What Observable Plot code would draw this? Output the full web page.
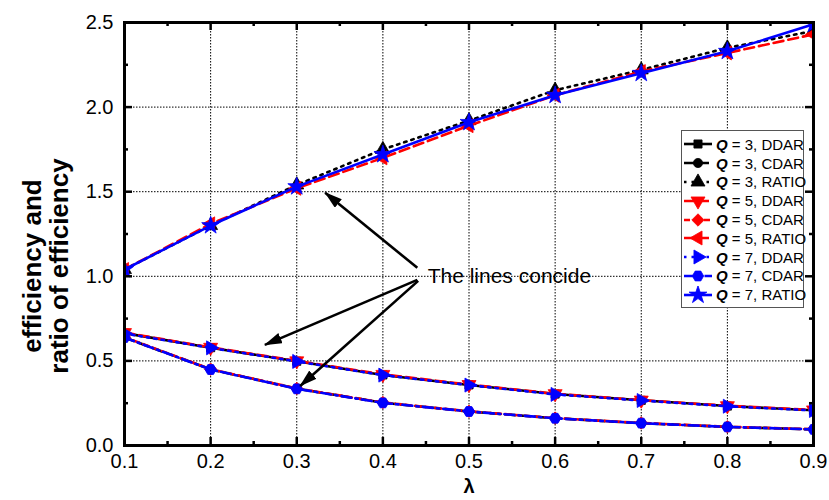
<!DOCTYPE html>
<html><head><meta charset="utf-8">
<script src="https://cdn.jsdelivr.net/npm/d3@7"></script>
<script src="https://cdn.jsdelivr.net/npm/@observablehq/plot@0.6"></script>
<style>
body{margin:0;background:#fff;font-family:"Liberation Sans",Arial,sans-serif;}
#wrap{position:relative;width:829px;height:500px;}
#legend{position:absolute;left:681px;top:130px;width:123px;height:178px;border:1px solid #555;background:#fff;padding-top:4px;box-sizing:border-box;}
.row{height:18.8px;display:flex;align-items:center;font-size:15px;white-space:nowrap;color:#000;}
.row svg{flex:none;margin-left:1px;margin-right:3px;}
</style></head><body><div id="wrap"></div>
<script>
// ---- data ----
const lambda = [0.1, 0.2, 0.3, 0.4, 0.5, 0.6, 0.7, 0.8, 0.9];
const q3DDAR  = [0.664, 0.578, 0.498, 0.417, 0.358, 0.304, 0.267, 0.233, 0.208];
const q3CDAR  = [0.638, 0.450, 0.336, 0.253, 0.201, 0.161, 0.132, 0.110, 0.095];
const q3RATIO = [1.04, 1.30, 1.54, 1.75, 1.92, 2.10, 2.22, 2.35, 2.45];
const q5DDAR  = [0.667, 0.580, 0.500, 0.420, 0.360, 0.306, 0.268, 0.235, 0.210];
const q5CDAR  = [0.640, 0.451, 0.337, 0.254, 0.202, 0.162, 0.133, 0.111, 0.096];
const q5RATIO = [1.04, 1.31, 1.52, 1.70, 1.89, 2.07, 2.21, 2.32, 2.43];
const q7DDAR  = [0.662, 0.577, 0.497, 0.416, 0.357, 0.302, 0.266, 0.232, 0.207];
const q7CDAR  = [0.638, 0.449, 0.335, 0.252, 0.201, 0.161, 0.132, 0.110, 0.095];
const q7RATIO = [1.04, 1.30, 1.53, 1.72, 1.91, 2.07, 2.20, 2.33, 2.49];

const seriesQ    = [3, 3, 3, 5, 5, 5, 7, 7, 7];
const seriesKind = ["DDAR", "CDAR", "RATIO", "DDAR", "CDAR", "RATIO", "DDAR", "CDAR", "RATIO"];
const seriesValues = [q3DDAR, q3CDAR, q3RATIO, q5DDAR, q5CDAR, q5RATIO, q7DDAR, q7CDAR, q7RATIO];

const xTicks = [0.1, 0.2, 0.3, 0.4, 0.5, 0.6, 0.7, 0.8, 0.9];
const xMinor = [0.15, 0.25, 0.35, 0.45, 0.55, 0.65, 0.75, 0.85];
const yTicks = [0.0, 0.5, 1.0, 1.5, 2.0, 2.5];
const yMinor = [0.25, 0.75, 1.25, 1.75, 2.25];

const xTitle = "λ";
const yTitleLines = ["efficiency and", "ratio of efficiency"];
const noteText = ["The lines concide"];
const noteAt = [[0.452, 1.003]];
const arrowFrom = [[0.440, 1.050], [0.440, 0.979], [0.441, 0.973]];
const arrowTo   = [[0.333, 1.494], [0.263, 0.595], [0.304, 0.352]];

// ---- styles ----
function rotTri(deg) {
  const a = deg * Math.PI / 180, c = Math.cos(a), s = Math.sin(a), r3 = Math.sqrt(3);
  return {draw(ctx, size) {
    const y = -Math.sqrt(size / (r3 * 3));
    const pts = [[0, 2 * y], [-r3 * y, -y], [r3 * y, -y]].map(([px, py]) => [px * c - py * s, px * s + py * c]);
    ctx.moveTo(pts[0][0], pts[0][1]); ctx.lineTo(pts[1][0], pts[1][1]); ctx.lineTo(pts[2][0], pts[2][1]); ctx.closePath();
  }};
}
const hexagon = {draw(ctx, size) {
  const rr = Math.sqrt(size / Math.PI) * 1.05, hr = rr * 1.0;
  ctx.moveTo(-hr, 0); ctx.lineTo(-hr / 2, -rr * 0.87); ctx.lineTo(hr / 2, -rr * 0.87);
  ctx.lineTo(hr, 0); ctx.lineTo(hr / 2, rr * 0.87); ctx.lineTo(-hr / 2, rr * 0.87); ctx.closePath();
}};
const colorOf = {3: "#000000", 5: "#ff0000", 7: "#0000ff"};
const seriesDash = [null, "10,5", "2.5,5", "10,5", "6,4", "10,5", "2.5,5", "10,4,2.5,4", null];
const seriesSymbol = [d3.symbolSquare, d3.symbolCircle, rotTri(0), rotTri(180), d3.symbolDiamond2, rotTri(-90), rotTri(90), hexagon, d3.symbolStar];
const seriesR = [4.6, 4.6, 5.2, 5.2, 5.6, 5.2, 5.2, 5.4, 5.6];

const series = seriesQ.map((q, i) => ({
  q, kind: seriesKind[i], color: colorOf[q], dash: seriesDash[i], symbol: seriesSymbol[i], r: seriesR[i],
  rows: lambda.map((x, j) => ({x, y: seriesValues[i][j]}))
}));

const W = 829, H = 500, mL = 124, mR = 16, mT = 22, mB = 55;
const pw = W - mL - mR, ph = H - mT - mB;
const fmt = d3.format(".1f");

const marks = [
  Plot.gridX(xTicks.slice(1, -1), {stroke: "black", strokeOpacity: 1, strokeWidth: 1, strokeDasharray: "1.5,1.5"}),
  Plot.gridY(yTicks.slice(1, -1), {stroke: "black", strokeOpacity: 1, strokeWidth: 1, strokeDasharray: "1.5,1.5"}),
  ...series.flatMap(s => [
    Plot.line(s.rows, {x: "x", y: "y", stroke: s.color, strokeWidth: 2.6, strokeDasharray: s.dash, clip: true}),
    Plot.dot(s.rows, {x: "x", y: "y", symbol: s.symbol, r: s.r, fill: s.color, stroke: s.color, strokeWidth: 0.8, clip: true})
  ]),
  Plot.link(arrowFrom.map((f, i) => ({x1: f[0], y1: f[1], x2: arrowTo[i][0], y2: arrowTo[i][1]})),
    {x1: "x1", y1: "y1", x2: "x2", y2: "y2", stroke: "black", strokeWidth: 2.6}),
  Plot.text(noteText, {x: (d, i) => noteAt[i][0], y: (d, i) => noteAt[i][1], text: d => d, textAnchor: "start", fontSize: 21, fill: "black"}),
  // inward ticks on all four sides
  Plot.tickX(xTicks, {x: d => d, insetTop: ph - 8, stroke: "black", strokeWidth: 2.5}),
  Plot.tickX(xTicks, {x: d => d, insetBottom: ph - 8, stroke: "black", strokeWidth: 2.5}),
  Plot.tickX(xMinor, {x: d => d, insetTop: ph - 4, stroke: "black", strokeWidth: 2.5}),
  Plot.tickX(xMinor, {x: d => d, insetBottom: ph - 4, stroke: "black", strokeWidth: 2.5}),
  Plot.tickY(yTicks, {y: d => d, insetRight: pw - 8, stroke: "black", strokeWidth: 2.5}),
  Plot.tickY(yTicks, {y: d => d, insetLeft: pw - 8, stroke: "black", strokeWidth: 2.5}),
  Plot.tickY(yMinor, {y: d => d, insetRight: pw - 4, stroke: "black", strokeWidth: 2.5}),
  Plot.tickY(yMinor, {y: d => d, insetLeft: pw - 4, stroke: "black", strokeWidth: 2.5}),
  Plot.frame({stroke: "black", strokeWidth: 3}),
  Plot.axisX(xTicks, {tickSize: 0, tickPadding: 8, tickFormat: fmt, fontSize: 20, label: null}),
  Plot.axisY(yTicks, {tickSize: 0, tickPadding: 11, tickFormat: fmt, fontSize: 20, label: null}),
  Plot.text([xTitle], {frameAnchor: "bottom", dy: 47, fontWeight: "bold", fontSize: 20, fill: "black"})
];

const chart = Plot.plot({
  width: W, height: H, marginLeft: mL, marginRight: mR, marginTop: mT, marginBottom: mB,
  x: {domain: [0.1, 0.9]},
  y: {domain: [0, 2.5]},
  style: {fontFamily: "'Liberation Sans', Arial, sans-serif", background: "white", color: "black", overflow: "visible"},
  marks
});
const wrap = document.getElementById("wrap");
wrap.appendChild(chart);

const svg = d3.select(chart.tagName.toLowerCase() === "svg" ? chart : chart.querySelector("svg"));

// filled arrowheads
svg.append("defs").append("marker")
  .attr("id", "ahead").attr("viewBox", "0 -5.5 18 11").attr("refX", 17).attr("refY", 0)
  .attr("markerWidth", 18).attr("markerHeight", 11).attr("markerUnits", "userSpaceOnUse").attr("orient", "auto")
  .append("path").attr("d", "M0,-5.5L18,0L0,5.5Z").attr("fill", "black");
svg.selectAll('g[aria-label="link"] path').attr("marker-end", "url(#ahead)");

// y-axis title (two lines, rotated)
const titleCy = 266, titleCx = [32, 59];
yTitleLines.forEach((line, i) => {
  svg.append("text")
    .attr("transform", `translate(${titleCx[i]},${titleCy}) rotate(-90)`)
    .attr("text-anchor", "middle").attr("dy", "0.35em")
    .attr("font-size", 26).attr("font-weight", "bold").attr("fill", "black")
    .text(line);
});

// legend
const legend = d3.select(wrap).append("div").attr("id", "legend");
series.forEach(s => {
  const row = legend.append("div").attr("class", "row");
  const sv = row.append("svg").attr("width", 30).attr("height", 18);
  sv.append("line").attr("x1", 1).attr("x2", 29).attr("y1", 9).attr("y2", 9)
    .attr("stroke", s.color).attr("stroke-width", 2.6).attr("stroke-dasharray", s.dash);
  sv.append("path").attr("transform", "translate(15,9)")
    .attr("d", d3.symbol(s.symbol, Math.PI * s.r * s.r)())
    .attr("fill", s.color).attr("stroke", s.color).attr("stroke-width", 0.8);
  const t = row.append("span");
  t.append("b").append("i").text("Q");
  t.append("span").text(` = ${s.q}, ${s.kind}`);
});
</script></body></html>
